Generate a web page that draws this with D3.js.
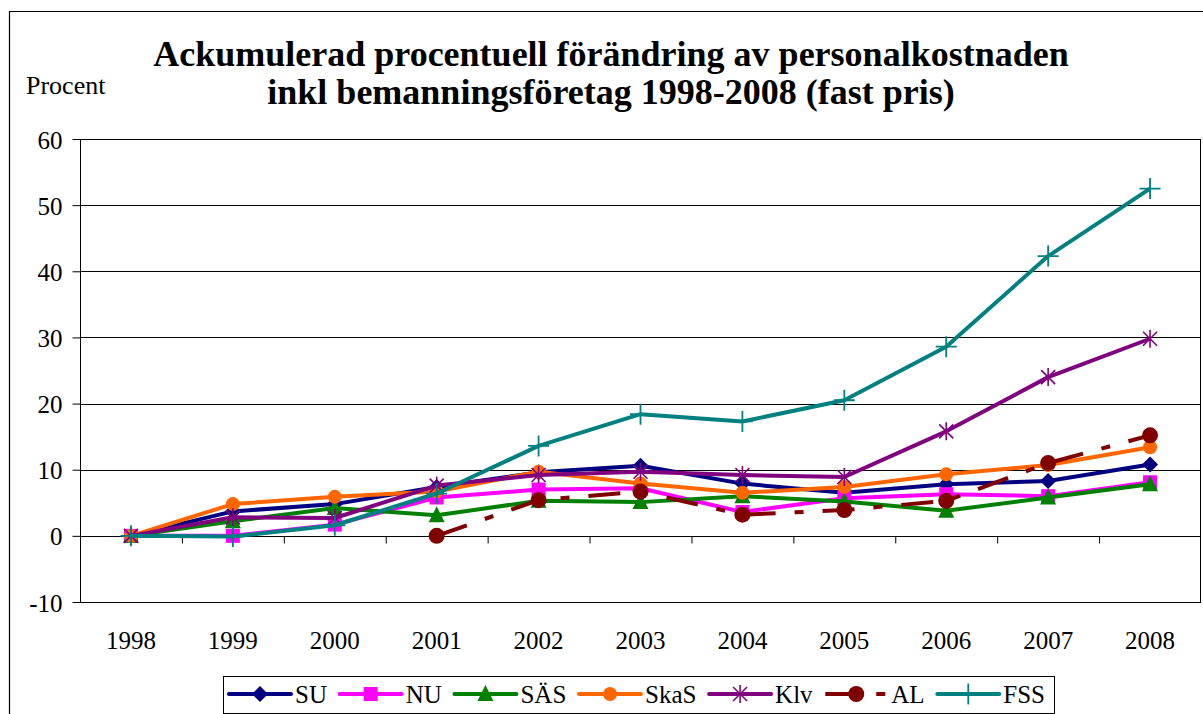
<!DOCTYPE html>
<html><head><meta charset="utf-8">
<script src="https://cdn.jsdelivr.net/npm/d3@7"></script>
<style>body{margin:0;background:#fff}svg{display:block}text{font-family:"Liberation Serif","Times New Roman",serif;fill:#000}</style>
</head><body><svg id="c" width="1203" height="714"></svg>
<script>
const years = ["1998","1999","2000","2001","2002","2003","2004","2005","2006","2007","2008"];
const seriesNames = ["SU","NU","SÄS","SkaS","Klv","AL","FSS"];
const SU   = [0, 3.7, 4.8, 7.4, 9.6, 10.6, 7.9, 6.5, 7.8, 8.3, 10.8];
const NU   = [0, 0.0, 1.7, 5.8, 7.0, 7.2, 3.6, 5.7, 6.3, 6.0, 8.1];
const SAS  = [0, 2.2, 4.2, 3.1, 5.3, 5.1, 6.0, 5.2, 3.8, 5.8, 7.8];
const SkaS = [0, 4.8, 5.9, 6.7, 9.7, 7.9, 6.5, 7.4, 9.3, 10.7, 13.4];
const Klv  = [0, 2.8, 2.7, 7.6, 9.2, 9.7, 9.2, 8.9, 15.8, 24.0, 29.8];
const AL   = [null, null, null, 0, 5.4, 6.7, 3.2, 3.9, 5.3, 11.0, 15.2];
const FSS  = [0, -0.1, 1.6, 6.4, 13.6, 18.4, 17.3, 20.5, 28.6, 42.3, 52.5];
const yTicks = [-10, 0, 10, 20, 30, 40, 50, 60];
const titleLines = ["Ackumulerad procentuell förändring av personalkostnaden", "inkl bemanningsföretag 1998-2008 (fast pris)"];
const yLabel = "Procent";

const colors = ["#000080","#FF00FF","#008000","#FF6600","#800080","#800000","#008080"];
const markers = ["diamond","square","triangle","circle","asterisk","bigcircle","plus"];
const values = [SU, NU, SAS, SkaS, Klv, AL, FSS];

const svg = d3.select("#c");
const L = 80, R = 1201, T = 139, B = 602;
const x = d3.scaleBand().domain(years).range([L, R]);
const cx = d => x(d) + x.bandwidth() / 2;
const y = d3.scaleLinear().domain([-10, 60]).range([B, T]);

// outer chart border
svg.append("path").attr("d", `M9.5,714 V11.5 H1203`).attr("fill","none").attr("stroke","#000").attr("stroke-width",1.2);

// title
svg.append("text").attr("x", 611).attr("y", 66).attr("text-anchor","middle")
  .style("font-size","36px").style("font-weight","bold").text(titleLines[0]);
svg.append("text").attr("x", 611).attr("y", 104).attr("text-anchor","middle")
  .style("font-size","36px").style("font-weight","bold").text(titleLines[1]);
svg.append("text").attr("x", 26).attr("y", 94).style("font-size","26px").text(yLabel);

// gridlines
svg.append("g").selectAll("line").data(yTicks.filter(v => v !== 0)).join("line")
  .attr("x1", L).attr("x2", R).attr("y1", d => Math.round(y(d)) + 0.5).attr("y2", d => Math.round(y(d)) + 0.5)
  .attr("stroke", "#000").attr("stroke-width", 1);
// plot border
svg.append("rect").attr("x", L + 0.5).attr("y", Math.round(T) + 0.5).attr("width", R - L - 1).attr("height", Math.round(B) - Math.round(T))
  .attr("fill","none").attr("stroke","#000").attr("stroke-width",1);

// y axis
const yAxis = svg.append("g").attr("transform", `translate(${L + 0.5},0)`)
  .call(d3.axisLeft(y).tickValues(yTicks).tickSize(8).tickPadding(10).tickFormat(d => String(d)));
yAxis.select(".domain").remove();
yAxis.selectAll("line").attr("stroke","#000");
yAxis.selectAll("text").style("font-size","25px").style("font-family",'"Liberation Serif",serif').attr("dy","0.36em");

// x axis line at 0 with ticks between categories
const xb = d3.scaleLinear().domain([0, years.length]).range([L, R]);
const xAxis0 = svg.append("g").attr("transform", `translate(0,${Math.round(y(0)) + 0.5})`)
  .call(d3.axisBottom(xb).tickValues(d3.range(1, years.length)).tickSize(7).tickFormat(""));
xAxis0.select(".domain").attr("d", `M${L},0H${R}`).attr("stroke","#000");
xAxis0.selectAll("line").attr("stroke","#000");

// x labels at bottom
const xAxis = svg.append("g").attr("transform", `translate(0,${B})`)
  .call(d3.axisBottom(x).tickSize(0).tickPadding(29));
xAxis.select(".domain").remove();
xAxis.selectAll("text").style("font-size","25px").style("font-family",'"Liberation Serif",serif');

function drawMarker(g, type, color) {
  if (type === "diamond") g.append("path").attr("d","M0,-8L8,0L0,8L-8,0Z").attr("fill",color);
  else if (type === "square") g.append("rect").attr("x",-7).attr("y",-7).attr("width",14).attr("height",14).attr("fill",color);
  else if (type === "triangle") g.append("path").attr("d","M0,-9L8,7L-8,7Z").attr("fill",color);
  else if (type === "circle") g.append("circle").attr("r",7).attr("fill",color);
  else if (type === "bigcircle") g.append("circle").attr("r",8).attr("fill",color);
  else if (type === "asterisk") g.append("path").attr("d","M-7,-7L7,7M-7,7L7,-7M0,-9V9").attr("stroke",color).attr("stroke-width",1.6).attr("fill","none");
  else if (type === "plus") g.append("path").attr("d","M-10.5,0H10.5M0,-10.5V10.5").attr("stroke",color).attr("stroke-width",1.8).attr("fill","none");
}

const line = d3.line().defined(d => d.v !== null).x(d => cx(d.year)).y(d => y(d.v));
const dash = "32,19,9,19";
values.forEach((vals, i) => {
  const pts = years.map((yr, j) => ({year: yr, v: vals[j]}));
  const g = svg.append("g");
  g.append("path").datum(pts).attr("d", line).attr("fill","none")
    .attr("stroke", colors[i]).attr("stroke-width", 4).attr("stroke-linejoin","round")
    .attr("stroke-dasharray", seriesNames[i] === "AL" ? dash : null);
  pts.filter(p => p.v !== null).forEach(p => {
    const m = g.append("g").attr("transform", `translate(${cx(p.year)},${y(p.v)})`);
    drawMarker(m, markers[i], colors[i]);
  });
});

// legend (justified inside box)
const boxL = 223, boxR = 1054, padL = 6, padR = 9, lineLen = 62, textOff = 66;
const lg = svg.append("g");
lg.append("rect").attr("x", boxL + 0.5).attr("y", 676.5).attr("width", boxR - boxL).attr("height", 37)
  .attr("fill","#fff").attr("stroke","#000").attr("stroke-width",1);
const ly = 694;
const items = seriesNames.map((name, i) => {
  const g = lg.append("g");
  const t = g.append("text").attr("y", 703).style("font-size","25px").text(name);
  return {name, i, g, t, w: t.node().getComputedTextLength()};
});
const totalW = d3.sum(items, d => textOff + d.w);
const gap = ((boxR - padR) - (boxL + padL) - totalW) / (items.length - 1);
let lx = boxL + padL;
items.forEach(d => {
  d.g.insert("line", "text").attr("x1", lx).attr("x2", lx + lineLen).attr("y1", ly).attr("y2", ly)
    .attr("stroke", colors[d.i]).attr("stroke-width", 4).attr("stroke-linecap", d.name === "AL" ? "butt" : "round")
    .attr("stroke-dasharray", d.name === "AL" ? dash : null);
  const m = d.g.insert("g", "text").attr("transform", `translate(${lx + lineLen / 2},${ly})`);
  drawMarker(m, markers[d.i], colors[d.i]);
  d.t.attr("x", lx + textOff);
  lx += textOff + d.w + gap;
});
</script></body></html>
